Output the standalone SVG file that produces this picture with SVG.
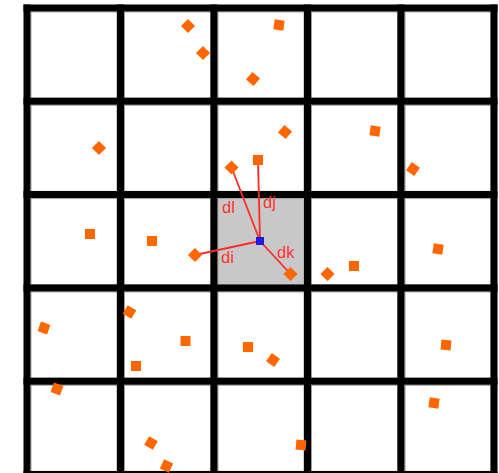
<svg xmlns="http://www.w3.org/2000/svg" width="499" height="473" viewBox="0 0 499 473">
<defs>
<style>
.cell{fill:#fff;stroke:#a0a0a0;stroke-width:1}
.grid{stroke:#000;stroke-width:7;fill:none}
.pt{fill:#ff6600}
.conn{stroke:#ff2a2a;stroke-width:1.8;fill:none}
.lbl{font-family:"Liberation Sans",Arial,sans-serif;font-size:16.5px;fill:#ff3333}
</style>
<rect id="m" x="-5" y="-5" width="10" height="10"/>
</defs>
<rect width="499" height="473" fill="#fff"/>
<g id="cells">
<rect class="cell" x="31" y="12" width="86" height="86"/>
<rect class="cell" x="124.5" y="12" width="86" height="86"/>
<rect class="cell" x="218" y="12" width="86" height="86"/>
<rect class="cell" x="311.5" y="12" width="86" height="86"/>
<rect class="cell" x="405" y="12" width="86" height="86"/>
<rect class="cell" x="31" y="105.3" width="86" height="86"/>
<rect class="cell" x="124.5" y="105.3" width="86" height="86"/>
<rect class="cell" x="218" y="105.3" width="86" height="86"/>
<rect class="cell" x="311.5" y="105.3" width="86" height="86"/>
<rect class="cell" x="405" y="105.3" width="86" height="86"/>
<rect class="cell" x="31" y="198.6" width="86" height="86"/>
<rect class="cell" x="124.5" y="198.6" width="86" height="86"/>
<rect class="cell" x="218" y="198.6" width="86" height="86" style="fill:#c8c8c8"/>
<rect class="cell" x="311.5" y="198.6" width="86" height="86"/>
<rect class="cell" x="405" y="198.6" width="86" height="86"/>
<rect class="cell" x="31" y="292" width="86" height="86"/>
<rect class="cell" x="124.5" y="292" width="86" height="86"/>
<rect class="cell" x="218" y="292" width="86" height="86"/>
<rect class="cell" x="311.5" y="292" width="86" height="86"/>
<rect class="cell" x="405" y="292" width="86" height="86"/>
<rect class="cell" x="31" y="385.3" width="86" height="86"/>
<rect class="cell" x="124.5" y="385.3" width="86" height="86"/>
<rect class="cell" x="218" y="385.3" width="86" height="86"/>
<rect class="cell" x="311.5" y="385.3" width="86" height="86"/>
<rect class="cell" x="405" y="385.3" width="86" height="86"/>
</g>
<g id="grid" class="grid">
<path d="M27 4.5V478M120.5 4.5V478M214 4.5V478M307.5 4.5V478M401 4.5V478M494 4.5V478"/>
<path d="M23.5 8H497.5M23.5 101.3H497.5M23.5 194.6H497.5M23.5 288H497.5M23.5 381.3H497.5M23.5 474.6H497.5"/>
</g>
<g id="connectors">
<line class="conn" x1="260" y1="241" x2="231.5" y2="167.5"/>
<line class="conn" x1="260" y1="241" x2="258" y2="160"/>
<line class="conn" x1="260" y1="241" x2="195" y2="255"/>
<line class="conn" x1="260" y1="241" x2="290.5" y2="274"/>
</g>
<g id="labels">
<text class="lbl" x="222" y="213">dl</text>
<text class="lbl" x="263" y="208">dj</text>
<text class="lbl" x="221" y="263">di</text>
<text class="lbl" x="277" y="258">dk</text>
</g>
<g id="points" class="pt">
<use href="#m" transform="translate(188,26) rotate(45)"/>
<use href="#m" transform="translate(203,53) rotate(45)"/>
<use href="#m" transform="translate(253,79) rotate(40)"/>
<use href="#m" transform="translate(279,25) rotate(8)"/>
<use href="#m" transform="translate(99,148) rotate(45)"/>
<use href="#m" transform="translate(285,132) rotate(40)"/>
<use href="#m" transform="translate(375,131) rotate(8)"/>
<use href="#m" transform="translate(413,169) rotate(35)"/>
<use href="#m" transform="translate(231.5,167.5) rotate(45)"/>
<use href="#m" transform="translate(258,160)"/>
<use href="#m" transform="translate(90,234)"/>
<use href="#m" transform="translate(152,241)"/>
<use href="#m" transform="translate(195,255) rotate(45)"/>
<use href="#m" transform="translate(290.5,274) rotate(45)"/>
<use href="#m" transform="translate(327.5,274) rotate(45)"/>
<use href="#m" transform="translate(354,266)"/>
<use href="#m" transform="translate(438,249) rotate(8)"/>
<use href="#m" transform="translate(446,345) rotate(5)"/>
<use href="#m" transform="translate(44,328) rotate(20)"/>
<use href="#m" transform="translate(129.5,312) rotate(30)"/>
<use href="#m" transform="translate(185.5,341)"/>
<use href="#m" transform="translate(136,366)"/>
<use href="#m" transform="translate(248,347)"/>
<use href="#m" transform="translate(273,360) rotate(35)"/>
<use href="#m" transform="translate(57,389) rotate(20)"/>
<use href="#m" transform="translate(151,443) rotate(30)"/>
<use href="#m" transform="translate(166.5,466) rotate(25)"/>
<use href="#m" transform="translate(301,445) rotate(5)"/>
<use href="#m" transform="translate(434,403) rotate(8)"/>
</g>
<g id="center">
<rect x="256.5" y="237.5" width="7" height="7" fill="#1a1aff" stroke="#1010a0" stroke-width="0.8"/>
</g>
</svg>
